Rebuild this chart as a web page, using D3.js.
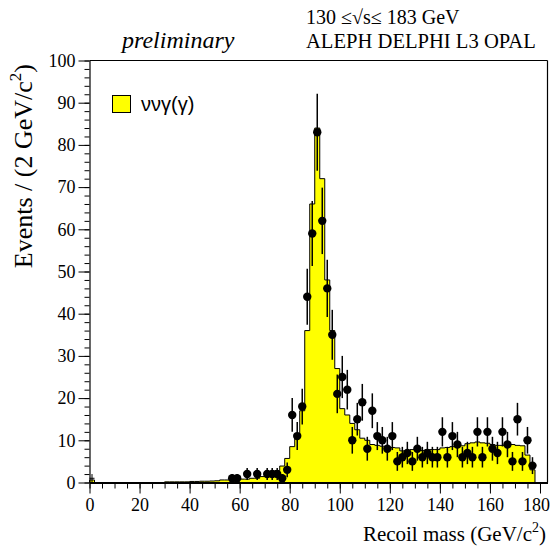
<!DOCTYPE html>
<html>
<head>
<meta charset="utf-8">
<script src="https://cdn.jsdelivr.net/npm/d3@7"></script>
<style>
  html, body { margin: 0; padding: 0; background: #fff; }
  svg { display: block; }
</style>
</head>
<body>
<svg id="chart" width="552" height="550"></svg>
<script>
// ---------- data ----------
// MC histogram (nu nu gamma(gamma)), 2 GeV bins starting at 0
const binWidth = 2;
const mcValues = [
  0.6, 0, 0, 0, 0, 0, 0, 0, 0, 0, 0, 0, 0, 0, 0,      // 0 - 28
  0.15, 0.15, 0.15, 0.15, 0.15,                       // 30 - 38
  0.25, 0.25, 0.3, 0.3, 0.35,                         // 40 - 48
  0.4, 0.6, 0.6, 0.6, 0.6,                            // 50 - 58
  0.8, 0.8, 1.0, 1.0, 1.4, 1.8, 2.2, 2.8, 3.9, 5.7,   // 60 - 78
  8.5, 11.5, 17, 36, 66, 84, 72, 48, 36, 27,          // 80 - 98
  17.5, 16, 14, 12.5, 10.5, 10, 9, 8.8, 8.6, 8.5,     // 100 - 118
  8.3, 8.2, 7.5, 7.5, 7.8, 7.8, 7.6, 7.8, 7.8, 7.8,   // 120 - 138
  8.2, 8.3, 8.5, 8.6, 8.7, 9.2, 9.4, 9.6, 9.4, 9.3,   // 140 - 158
  9.0, 8.8, 8.8, 9.0, 9.0, 8.8, 8.7, 6.5, 3.0         // 160 - 176
];
// data points (bin centres, event counts)
const dataX = [57, 59, 63, 67, 71, 73, 75, 77, 79, 81, 83, 85, 87, 89, 91, 93, 95, 97,
  99, 101, 103, 105, 107, 109, 111, 113, 115, 117, 119, 121, 123, 125, 127, 129, 131, 133,
  135, 137, 139, 141, 143, 145, 147, 149, 151, 153, 155, 157, 159, 161, 163, 165, 167, 169,
  171, 173, 175, 177];
const dataY = [1, 1, 2, 2, 2, 2, 2, 1, 3, 16, 11, 18, 44, 59, 83, 62, 46, 35,
  21, 25, 22, 10, 15, 19, 8, 17, 11, 10, 8, 11, 5, 6, 7, 5, 8, 6,
  7, 6, 6, 12, 6, 11, 9, 6, 7, 6, 12, 6, 12, 8, 7, 12, 9, 5,
  15, 5, 10, 4];
// lone entry near zero drawn without marker
const lowX = [1];
const lowY = [1];

const xMajorTicks = [0, 20, 40, 60, 80, 100, 120, 140, 160, 180];
const yMajorTicks = [0, 10, 20, 30, 40, 50, 60, 70, 80, 90, 100];

// ---------- layout ----------
const svg = d3.select("#chart");
const x = d3.scaleLinear().domain([0, 183]).range([89.5, 547.5]);
const y = d3.scaleLinear().domain([0, 100]).range([482.5, 60.5]);
const serif = "'Liberation Serif', 'Times New Roman', serif";
const sans = "'Liberation Sans', Arial, sans-serif";

// histogram
const mcBins = mcValues.map((v, i) => ({ lo: i * binWidth, hi: (i + 1) * binWidth, v }));
const histPath = d3.path();
histPath.moveTo(x(0), y(0));
mcBins.forEach(b => { histPath.lineTo(x(b.lo), y(b.v)); histPath.lineTo(x(b.hi), y(b.v)); });
histPath.lineTo(x(mcBins[mcBins.length - 1].hi), y(0));
histPath.closePath();
svg.append("path").attr("d", histPath.toString())
  .attr("fill", "#ffff00").attr("stroke", "#000").attr("stroke-width", 1)
  .attr("stroke-linejoin", "miter");

// data points
const pts = dataX.map((d, i) => ({ x: d, y: dataY[i] }));
svg.append("g").selectAll("line").data(pts).join("line")
  .attr("x1", d => x(d.x)).attr("x2", d => x(d.x))
  .attr("y1", d => y(Math.max(0, d.y - Math.sqrt(d.y))))
  .attr("y2", d => y(d.y + Math.sqrt(d.y)))
  .attr("stroke", "#000").attr("stroke-width", 1.5);
svg.append("g").selectAll("circle").data(pts).join("circle")
  .attr("cx", d => x(d.x)).attr("cy", d => y(d.y)).attr("r", 4.2).attr("fill", "#000");

const low = lowX.map((d, i) => ({ x: d, y: lowY[i] }));
const lowG = svg.append("g");
lowG.selectAll("line.v").data(low).join("line").attr("class", "v")
  .attr("x1", d => x(d.x)).attr("x2", d => x(d.x))
  .attr("y1", d => y(d.y - 1)).attr("y2", d => y(d.y + 1))
  .attr("stroke", "#000").attr("stroke-width", 1);
lowG.selectAll("line.h").data(low).join("line").attr("class", "h")
  .attr("x1", d => x(d.x - 1)).attr("x2", d => x(d.x + 1))
  .attr("y1", d => y(d.y)).attr("y2", d => y(d.y))
  .attr("stroke", "#000").attr("stroke-width", 1);

// frame (top & right)
svg.append("line").attr("x1", x(0)).attr("x2", x(183)).attr("y1", y(100)).attr("y2", y(100))
  .attr("stroke", "#000").attr("stroke-width", 1);
svg.append("line").attr("x1", x(183)).attr("x2", x(183)).attr("y1", y(100)).attr("y2", y(0))
  .attr("stroke", "#000").attr("stroke-width", 1.2);

// axes
function styleAxis(g, size) {
  g.selectAll("text").attr("font-family", serif).attr("font-size", size).attr("fill", "#000");
  g.selectAll("line, path").attr("stroke", "#000");
}
const yMinor = svg.append("g").attr("transform", `translate(${x(0)},0)`)
  .call(d3.axisLeft(y).tickValues(d3.range(0, 101, 2)).tickSize(5).tickSizeOuter(0).tickFormat(""));
yMinor.select(".domain").remove();
styleAxis(yMinor, 18);
const yMajor = svg.append("g").attr("transform", `translate(${x(0)},0)`)
  .call(d3.axisLeft(y).tickValues(yMajorTicks).tickSize(11).tickSizeOuter(0).tickPadding(3));
styleAxis(yMajor, 18);
yMajor.select(".domain").attr("stroke-width", 1.2);

const xMinor = svg.append("g").attr("transform", `translate(0,${y(0)})`)
  .call(d3.axisBottom(x).tickValues(d3.range(0, 181, 5)).tickSize(6).tickSizeOuter(0).tickFormat(""));
xMinor.select(".domain").remove();
styleAxis(xMinor, 18);
const xMajor = svg.append("g").attr("transform", `translate(0,${y(0)})`)
  .call(d3.axisBottom(x).tickValues(xMajorTicks).tickSize(11).tickSizeOuter(0).tickPadding(5));
styleAxis(xMajor, 18);
xMajor.select(".domain").attr("stroke-width", 2);
// keep the last label inside the picture
xMajor.selectAll(".tick text").filter(d => d === 180).attr("dx", -4);

// axis titles
const xt = svg.append("text").attr("x", 546).attr("y", 541).attr("text-anchor", "end")
  .attr("font-family", serif).attr("font-size", 21).attr("fill", "#000");
xt.append("tspan").text("Recoil mass (GeV/c");
xt.append("tspan").attr("dy", -9).attr("font-size", 14).text("2");
xt.append("tspan").attr("dy", 9).text(")");

const yt = svg.append("text").attr("transform", "rotate(-90)")
  .attr("x", -64).attr("y", 32).attr("text-anchor", "end")
  .attr("font-family", serif).attr("font-size", 26).attr("fill", "#000");
yt.append("tspan").text("Events / (2 GeV/c");
yt.append("tspan").attr("dy", -11).attr("font-size", 17).text("2");
yt.append("tspan").attr("dy", 11).text(")");

// header texts
svg.append("text").attr("x", 306).attr("y", 24).attr("font-family", serif).attr("font-size", 20)
  .text("130 \u2264\u221As\u2264 183 GeV");
svg.append("text").attr("x", 306).attr("y", 48).attr("font-family", serif).attr("font-size", 20.6)
  .text("ALEPH DELPHI L3 OPAL");
svg.append("text").attr("x", 122).attr("y", 48).attr("font-family", serif).attr("font-size", 24)
  .attr("font-style", "italic").text("preliminary");

// legend
svg.append("rect").attr("x", 112.5).attr("y", 95.5).attr("width", 18).attr("height", 17)
  .attr("fill", "#ffff00").attr("stroke", "#000").attr("stroke-width", 1);
svg.append("text").attr("x", 141).attr("y", 111).attr("font-family", sans).attr("font-size", 20)
  .text("\u03BD\u03BD\u03B3(\u03B3)");
</script>
</body>
</html>
